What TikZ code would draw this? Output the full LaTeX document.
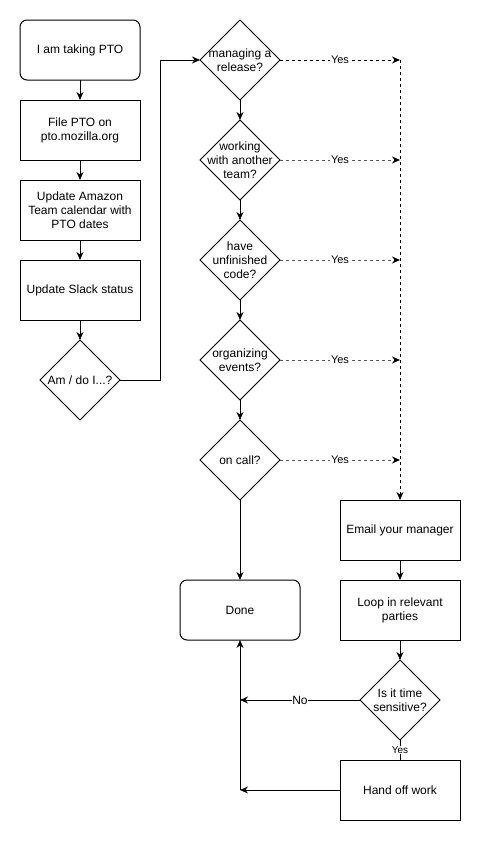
\documentclass[tikz,border=0pt]{standalone}
\usepackage{fontspec}
\setmainfont{Liberation Sans}
\usetikzlibrary{arrows.meta, shapes.geometric, positioning, calc}
\tikzset{
  flowbox/.style={
    rectangle, draw=black, line width=1pt, minimum width=120pt, minimum height=60pt,
    inner sep=0pt, outer sep=0pt, align=center, font=\fontsize{12}{14}\selectfont
  },
  startend/.style={flowbox, rounded corners=7pt},
  question/.style={
    diamond, draw=black, line width=0.8pt, minimum width=80pt, minimum height=80pt,
    inner sep=-16pt, outer sep=0pt, align=center, font=\fontsize{12}{14}\selectfont
  },
  edge/.style={-{Stealth[length=8pt,width=7pt]}, line width=1pt},
  yesedge/.style={-{Stealth[length=8pt,width=7pt,color=black]}, line width=1pt, dash pattern=on 3pt off 3pt},
  fadededge/.style={yesedge, draw=black!65},
  yeslabel/.style={fill=white, inner sep=1pt, text=black, font=\fontsize{11}{13}\selectfont}
}

\begin{document}
\begin{tikzpicture}[x=1pt, y=-1pt]
    \useasboundingbox (0,0) rectangle (481,841);
    % left column
    \node[startend] (pto) at (80,50) {I am taking PTO};
    \node[flowbox, below=20pt of pto] (file) {File PTO on\\pto.mozilla.org};
    \node[flowbox, below=20pt of file] (cal) {Update Amazon\\Team calendar with\\PTO dates};
    \node[flowbox, below=20pt of cal] (slack) {Update Slack status};
    \node[question, below=20pt of slack] (amdo) {Am / do I...?};
    % questions
    \node[question] (rel) at (240,60) {managing a\\release?};
    \node[question, below=20pt of rel] (team) {working\\with another\\team?};
    \node[question, below=20pt of team] (code) {have\\unfinished\\code?};
    \node[question, below=20pt of code] (events) {organizing\\events?};
    \node[question, below=20pt of events] (oncall) {on call?};
    \node[startend, below=80pt of oncall] (done) {Done};
    % right column
    \node[flowbox] (email) at (400,530) {Email your manager};
    \node[flowbox, below=20pt of email] (loop) {Loop in relevant\\parties};
    \node[question, below=20pt of loop] (sens) {Is it time\\sensitive?};
    \node[flowbox, below=20pt of sens] (hand) {Hand off work};
    \coordinate (join) at (rel.east -| email.north);
    \coordinate (nojoin) at (sens.west -| done.south);
    \coordinate (handjoin) at (hand.west -| done.south);

    \draw[edge] (pto) -- (file);
    \draw[edge] (file) -- (cal);
    \draw[edge] (cal) -- (slack);
    \draw[edge] (slack) -- (amdo);
    \draw[edge] (amdo.east) -- ++(40,0) |- (rel.west);
    \draw[edge] (rel) -- (team);
    \draw[edge] (team) -- (code);
    \draw[edge] (code) -- (events);
    \draw[edge] (events) -- (oncall);
    \draw[edge] (oncall) -- (done);

    \draw[yesedge] (rel.east) -- node[yeslabel] {Yes} (join);
    \draw[fadededge] (team.east) -- node[yeslabel] {Yes} (team.east -| email.north);
    \draw[fadededge] (code.east) -- node[yeslabel] {Yes} (code.east -| email.north);
    \draw[fadededge] (events.east) -- node[yeslabel] {Yes} (events.east -| email.north);
    \draw[fadededge] (oncall.east) -- node[yeslabel] {Yes} (oncall.east -| email.north);
    \draw[yesedge] (join) -- (email.north);

    \draw[edge] (email) -- (loop);
    \draw[edge] (loop) -- (sens);
    \draw[line width=1pt] (sens.south) -- node[yeslabel, font=\fontsize{10}{12}\selectfont] {Yes} (hand.north);
    \draw[edge] (sens.west) -- node[yeslabel, font=\fontsize{12}{14}\selectfont, inner sep=0pt] {No} (nojoin);
    \draw[edge] (hand.west) -- (handjoin);
    \draw[edge] (handjoin) -- (done.south);
\end{tikzpicture}
\end{document}
